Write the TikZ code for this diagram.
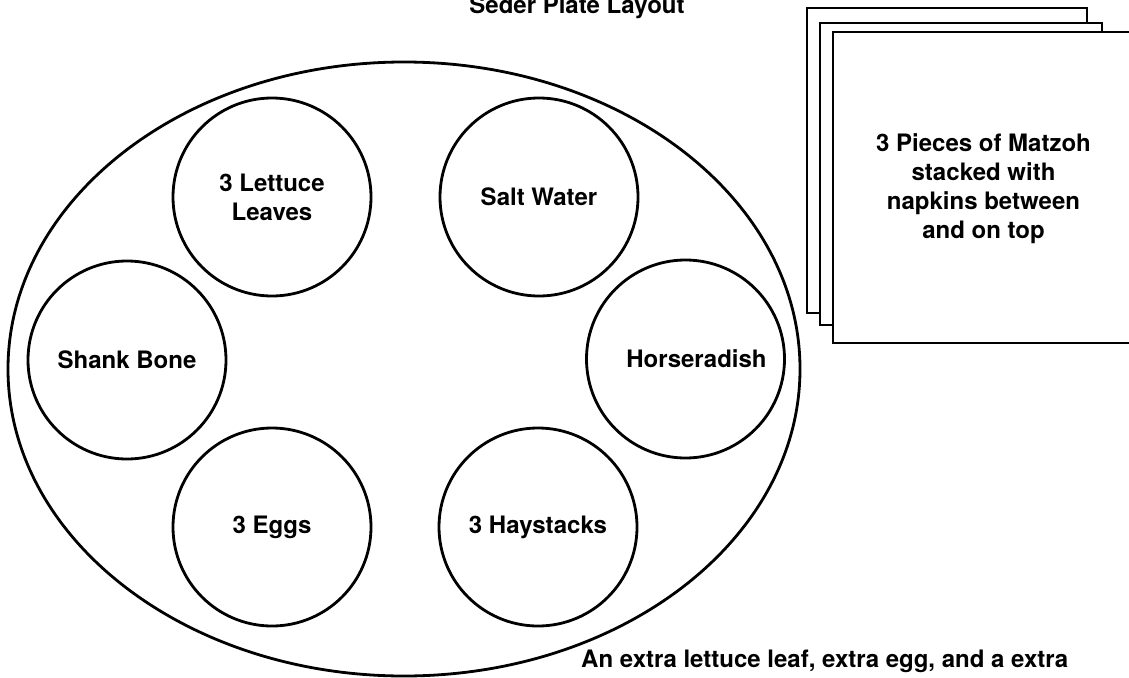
\documentclass[tikz,border=0pt]{standalone}
\usepackage{fontspec}
\setmainfont{TeX Gyre Heros}
\begin{document}
\begin{tikzpicture}[x=1pt,y=-1pt,
  every node/.style={font=\bfseries\fontsize{24}{29}\selectfont},
  dish/.style={draw,circle,line width=2.8pt,minimum size=198pt,inner sep=0pt,align=center},
  sheet/.style={draw,fill=white,line width=2.8pt},
  plainlabel/.style={inner sep=0pt}]
\useasboundingbox (0,0) rectangle (1129,677);
% plate
\draw[line width=2.8pt] (404,369) ellipse [x radius=396, y radius=307];
\node[dish] (lettuce) at (272,197) {3 Lettuce\\Leaves};
\node[dish] (salt) at (539,197) {Salt Water};
\node[dish] (shank) at (127,360) {Shank Bone};
\node[dish] (horse) at (685.5,359) {\hspace*{22pt}Horseradish};
\node[dish] (eggs) at (272,527) {3 Eggs};
\node[dish] (hay) at (538,527) {3 Haystacks};
% matzoh stack
\draw[sheet] (807,8) rectangle (1087,313);
\draw[sheet] (820,23) rectangle (1102,325);
\draw[sheet] (833,32) rectangle (1134,343);
\node[align=center,inner sep=0pt] (matzoh) at (983.5,189) {3 Pieces of Matzoh\\stacked with\\napkins between\\and on top};
% titles
\node[plainlabel,anchor=base] (title) at (577,14) {Seder Plate Layout};
\node[plainlabel,anchor=base west] (extra) at (581,667) {An extra lettuce leaf, extra egg, and a extra};
\end{tikzpicture}
\end{document}
